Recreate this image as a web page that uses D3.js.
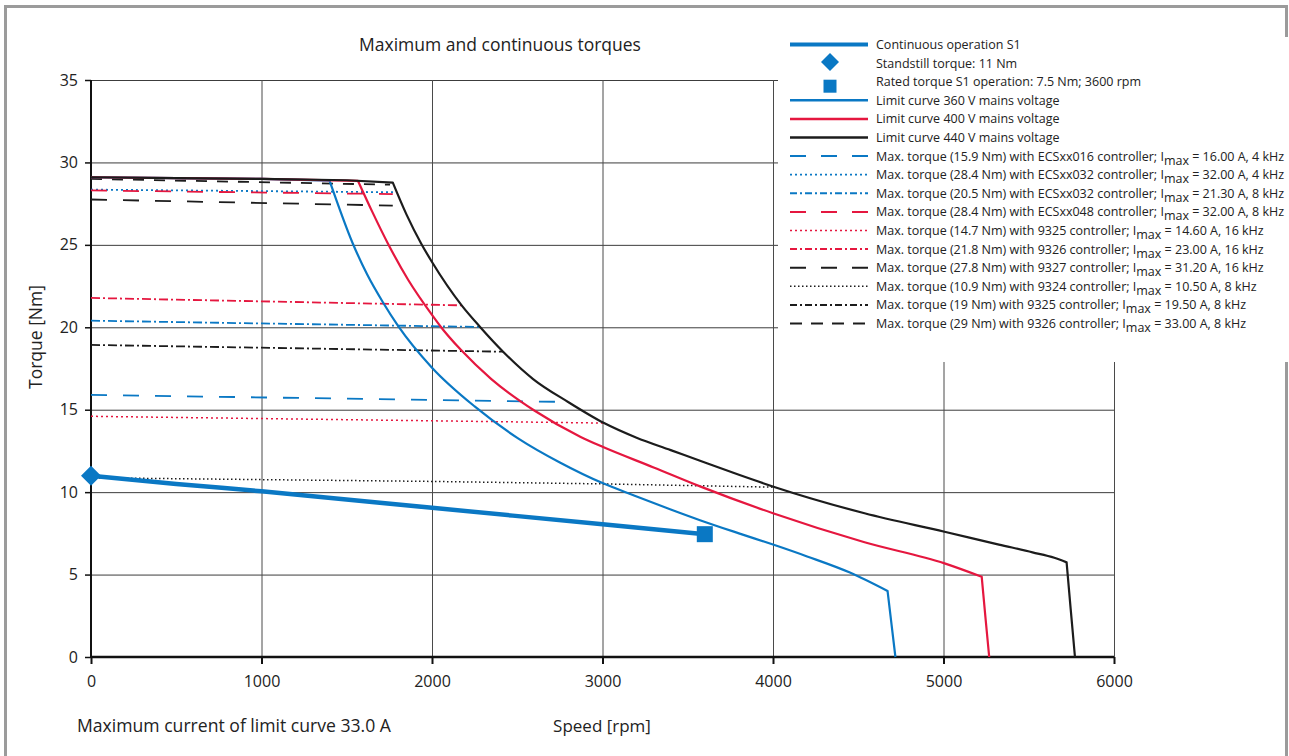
<!DOCTYPE html>
<html><head><meta charset="utf-8">
<script src="https://cdn.jsdelivr.net/npm/d3@7"></script>
<style>
html,body{margin:0;padding:0;background:#fff;}
svg{display:block;font-family:"Open Sans","Noto Sans",sans-serif;}
</style></head>
<body>
<svg id="c" width="1289" height="756"></svg>
<script>
// ---------- data ----------
const speedTicks = [0, 1000, 2000, 3000, 4000, 5000, 6000];
const torqueTicks = [0, 5, 10, 15, 20, 25, 30, 35];

// limit curves [speed rpm, torque Nm], split into flat part, falling part, final drop
const limit360Flat = [[0,29.1],[500,29.05],[1000,29.0],[1399,28.9]];
const limit360Falling = [[1399,28.9],[1536,25.07],[1620,23.2],[1712,21.52],[1800,20.1],[2000,17.55],[2250,15.2],[2507,13.25],[2750,11.8],[3000,10.55],[3185,9.8],[3400,8.95],[3572,8.3],[3800,7.5],[4000,6.82],[4200,6.1],[4451,5.12],[4672,4.0]];
const limit360Drop = [[4672,4.0],[4695,2.0],[4718,0]];

const limit400Flat = [[0,29.1],[500,29.05],[1000,29.0],[1566,28.88]];
const limit400Falling = [[1566,28.88],[1650,27.0],[1742,25.07],[1859,22.9],[2000,20.75],[2050,20.05],[2172,18.6],[2348,16.86],[2600,14.95],[2872,13.35],[3000,12.75],[3300,11.5],[3572,10.35],[4000,8.72],[4537,6.96],[5006,5.68],[5224,4.87]];
const limit400Drop = [[5224,4.87],[5246,2.4],[5268,0]];

const limit440Flat = [[0,29.1],[500,29.05],[1000,29.0],[1500,28.92],[1770,28.78]];
const limit440Falling = [[1770,28.78],[1850,26.85],[1937,25.07],[2000,23.96],[2174,21.33],[2282,20.02],[2417,18.52],[2593,16.86],[2798,15.47],[3009,14.19],[3200,13.3],[3400,12.55],[3572,11.9],[3800,11.05],[4012,10.3],[4537,8.72],[5006,7.6],[5325,6.82],[5522,6.35],[5650,6.02],[5722,5.74]];
const limit440Drop = [[5722,5.74],[5746,2.9],[5771,0]];

// continuous operation S1
const continuousS1 = [[0,11.0],[500,10.5],[1000,10.05],[2000,9.05],[3000,8.05],[3600,7.45]];
const standstill = [[0, 11.0]];
const ratedS1 = [[3600, 7.45]];

// max torque lines of controllers
const maxTorqueECS016_4k = [[0,15.9],[2798,15.47]];
const maxTorqueECS032_4k = [[0,28.35],[1780,28.19]];
const maxTorqueECS032_8k = [[0,20.4],[2282,20.02]];
const maxTorqueECS048_8k = [[0,28.3],[1770,28.08]];
const maxTorque9325_16k = [[0,14.6],[3009,14.19]];
const maxTorque9326_16k = [[0,21.78],[2174,21.33]];
const maxTorque9327_16k = [[0,27.75],[1770,27.38]];
const maxTorque9324_8k = [[0,10.87],[2000,10.65],[3000,10.5],[4012,10.3]];
const maxTorque9325_8k = [[0,18.93],[2417,18.52]];
const maxTorque9326_8k = [[0,29.0],[1754,28.65]];

const legendLabels = [
  "Continuous operation S1",
  "Standstill torque: 11 Nm",
  "Rated torque S1 operation: 7.5 Nm; 3600 rpm",
  "Limit curve 360 V mains voltage",
  "Limit curve 400 V mains voltage",
  "Limit curve 440 V mains voltage",
  ["Max. torque (15.9 Nm) with ECSxx016 controller; I", " = 16.00 A, 4 kHz"],
  ["Max. torque (28.4 Nm) with ECSxx032 controller; I", " = 32.00 A, 4 kHz"],
  ["Max. torque (20.5 Nm) with ECSxx032 controller; I", " = 21.30 A, 8 kHz"],
  ["Max. torque (28.4 Nm) with ECSxx048 controller; I", " = 32.00 A, 8 kHz"],
  ["Max. torque (14.7 Nm) with 9325 controller; I", " = 14.60 A, 16 kHz"],
  ["Max. torque (21.8 Nm) with 9326 controller; I", " = 23.00 A, 16 kHz"],
  ["Max. torque (27.8 Nm) with 9327 controller; I", " = 31.20 A, 16 kHz"],
  ["Max. torque (10.9 Nm) with 9324 controller; I", " = 10.50 A, 8 kHz"],
  ["Max. torque (19 Nm) with 9325 controller; I", " = 19.50 A, 8 kHz"],
  ["Max. torque (29 Nm) with 9326 controller; I", " = 33.00 A, 8 kHz"]
];

// ---------- styles ----------
const BLUE = "#0a78c4", RED = "#e5173f", BLACK = "#1c1c1c";
const LONG = "16,16", MED = "11,10", DOT = "2,3", FDOT = "1.5,2.5", DASHDOT = "9,3,2,3";

const svg = d3.select("#c");
const W = 1289, H = 756;
const x = d3.scaleLinear().domain([0, 6000]).range([91, 1114]);
const y = d3.scaleLinear().domain([0, 35]).range([657, 80]);

// frame
svg.append("path").attr("d", `M5.5,${H} V6.5 H1286.5 V${H}`)
  .attr("fill", "none").attr("stroke", "#9b9b9b").attr("stroke-width", 3);

// grid
const gy = svg.append("g").attr("transform", `translate(${x(0)},0)`)
  .call(d3.axisLeft(y).tickValues(torqueTicks).tickSize(-(x(6000) - x(0))).tickFormat(""));
gy.select(".domain").remove();
gy.selectAll("line").attr("stroke", "#3c3c3c").attr("stroke-width", 1);
const gx = svg.append("g").attr("transform", `translate(0,${y(0)})`)
  .call(d3.axisBottom(x).tickValues(speedTicks).tickSize(-(y(0) - y(35))).tickFormat(""));
gx.select(".domain").remove();
gx.selectAll("line").attr("stroke", "#4a4a4a").attr("stroke-width", 1);

// axes
const ax = svg.append("g").attr("transform", `translate(0,${y(0)})`)
  .call(d3.axisBottom(x).tickValues(speedTicks).tickSize(7).tickPadding(12).tickFormat(d3.format("d")));
ax.select(".domain").attr("stroke", "#111").attr("stroke-width", 2.5).attr("d", `M${x(0)},0H${x(6000)}`);
ax.selectAll("line").attr("stroke", "#111").attr("stroke-width", 2);
ax.selectAll("text").attr("font-size", 16).attr("fill", "#222").attr("font-family", '"Open Sans",sans-serif');

const ay = svg.append("g").attr("transform", `translate(${x(0)},0)`)
  .call(d3.axisLeft(y).tickValues(torqueTicks).tickSize(6).tickPadding(7).tickFormat(d3.format("d")));
ay.select(".domain").attr("stroke", "#111").attr("stroke-width", 2).attr("d", `M0,${y(35)}V${y(0)}`);
ay.selectAll("line").attr("stroke", "#111").attr("stroke-width", 1.5);
ay.selectAll("text").attr("font-size", 16).attr("fill", "#222").attr("font-family", '"Open Sans",sans-serif');

// lines
const line = d3.line().x(d => x(d[0])).y(d => y(d[1]));
const smooth = d3.line().x(d => x(d[0])).y(d => y(d[1])).curve(d3.curveMonotoneX);
function pathD(parts) {
  // join several generated pieces into one continuous path
  return parts.map((p, i) => {
    const s = p[1](p[0]);
    return i === 0 ? s : "L" + s.slice(1);
  }).join("");
}
function drawD(d, color, width, dash) {
  svg.append("path").attr("d", d)
    .attr("fill", "none").attr("stroke", color).attr("stroke-width", width)
    .attr("stroke-dasharray", dash || null).attr("stroke-linejoin", "round");
}
const maxLines = [
  [maxTorqueECS016_4k, BLUE, 1.8, LONG],
  [maxTorqueECS032_4k, BLUE, 1.8, DOT],
  [maxTorqueECS032_8k, BLUE, 1.8, DASHDOT],
  [maxTorqueECS048_8k, RED, 1.8, LONG],
  [maxTorque9325_16k, RED, 1.5, DOT],
  [maxTorque9326_16k, RED, 1.8, DASHDOT],
  [maxTorque9327_16k, BLACK, 1.8, LONG],
  [maxTorque9324_8k, BLACK, 1.5, FDOT],
  [maxTorque9325_8k, BLACK, 1.8, DASHDOT],
  [maxTorque9326_8k, BLACK, 1.8, MED]
];
maxLines.forEach(m => drawD(line(m[0]), m[1], m[2], m[3]));
drawD(pathD([[limit360Flat, line], [limit360Falling, smooth], [limit360Drop, line]]), BLUE, 2.2);
drawD(pathD([[limit400Flat, line], [limit400Falling, smooth], [limit400Drop, line]]), RED, 2.2);
drawD(pathD([[limit440Flat, line], [limit440Falling, smooth], [limit440Drop, line]]), BLACK, 2.2);
drawD(smooth(continuousS1), BLUE, 4.5);

// markers
const diamond = (cx, cy, r) => `M${cx},${cy - r}L${cx + r},${cy}L${cx},${cy + r}L${cx - r},${cy}Z`;
svg.selectAll(".dia").data(standstill).enter().append("path")
  .attr("d", d => diamond(x(d[0]), y(d[1]), 10)).attr("fill", BLUE);
svg.selectAll(".sq").data(ratedS1).enter().append("rect")
  .attr("x", d => x(d[0]) - 8).attr("y", d => y(d[1]) - 8).attr("width", 16).attr("height", 16).attr("fill", BLUE);

// texts
const txt = (tx, ty, s, size, anchor) => svg.append("text").attr("x", tx).attr("y", ty)
  .attr("font-size", size).attr("fill", "#222").attr("text-anchor", anchor || "start").text(s);
txt(500, 50.5, "Maximum and continuous torques", 17.5, "middle");
txt(602, 732, "Speed [rpm]", 17, "middle");
txt(77, 732, "Maximum current of limit curve 33.0 A", 17.6, "start");
svg.append("text").attr("transform", "translate(42,337) rotate(-90)").attr("text-anchor", "middle")
  .attr("font-size", 17.5).attr("fill", "#222").text("Torque [Nm]");

// legend (white box covering grid and frame)
svg.append("rect").attr("x", 778).attr("y", 37).attr("width", 520).attr("height", 325).attr("fill", "#ffffff");
const lg = svg.append("g");
const rowY = i => 44.5 + i * 18.6;
const legendStyles = [
  {type: "line", color: BLUE, w: 4, dash: null},
  {type: "diamond"},
  {type: "square"},
  {type: "line", color: BLUE, w: 2.5, dash: null},
  {type: "line", color: RED, w: 2.5, dash: null},
  {type: "line", color: BLACK, w: 2.5, dash: null},
  {type: "line", color: BLUE, w: 2, dash: "16,15"},
  {type: "line", color: BLUE, w: 1.8, dash: DOT},
  {type: "line", color: BLUE, w: 2, dash: "7,3,2,3"},
  {type: "line", color: RED, w: 2, dash: "16,15"},
  {type: "line", color: RED, w: 1.5, dash: DOT},
  {type: "line", color: RED, w: 2, dash: "7,3,2,3"},
  {type: "line", color: BLACK, w: 2, dash: "16,15"},
  {type: "line", color: BLACK, w: 1.5, dash: FDOT},
  {type: "line", color: BLACK, w: 2, dash: "7,3,2,3"},
  {type: "line", color: BLACK, w: 2, dash: "12,9"}
];
legendLabels.forEach((lab, i) => {
  const cy = rowY(i), st = legendStyles[i];
  if (st.type === "line") {
    lg.append("line").attr("x1", 790).attr("x2", 868).attr("y1", cy).attr("y2", cy)
      .attr("stroke", st.color).attr("stroke-width", st.w).attr("stroke-dasharray", st.dash);
  } else if (st.type === "diamond") {
    lg.append("path").attr("d", diamond(830, cy - 1, 9)).attr("fill", BLUE);
  } else {
    lg.append("rect").attr("x", 823.5).attr("y", cy - 2).attr("width", 13).attr("height", 13).attr("fill", BLUE);
  }
  const t = lg.append("text").attr("x", 876).attr("y", cy + 4.5).attr("font-size", 12.5).attr("fill", "#222");
  if (typeof lab === "string") t.text(lab);
  else {
    t.append("tspan").text(lab[0]);
    t.append("tspan").attr("dy", 4).text("max");
    t.append("tspan").attr("dy", -4).text(lab[1]);
  }
});
</script>
</body></html>
